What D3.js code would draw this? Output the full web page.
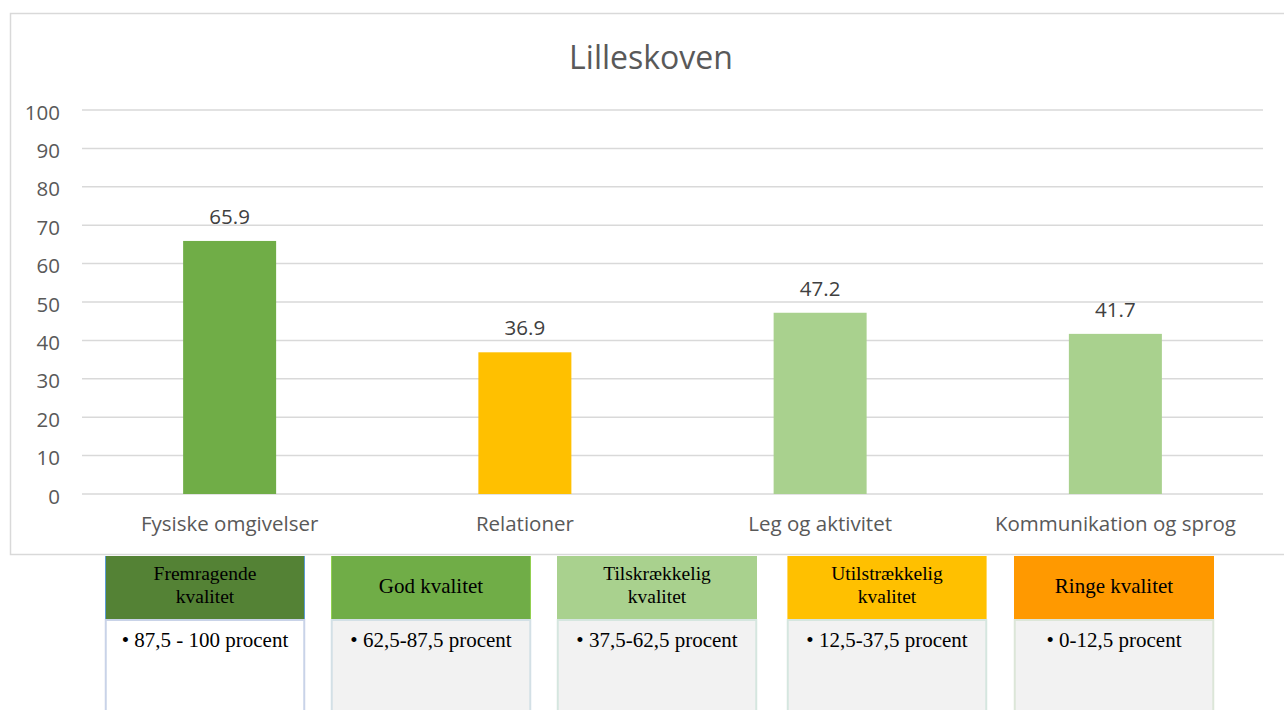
<!DOCTYPE html>
<html><head><meta charset="utf-8">
<script src="https://cdn.jsdelivr.net/npm/d3@7"></script>
<style>
body{margin:0;background:#fff;}
svg{display:block;}
</style></head>
<body>
<svg id="c" width="1284" height="710"></svg>
<script>
const title = "Lilleskoven";
const categories = ["Fysiske omgivelser","Relationer","Leg og aktivitet","Kommunikation og sprog"];
const values = [65.9, 36.9, 47.2, 41.7];
const barColors = ["#70AD47","#FFC000","#A9D18E","#A9D18E"];
const yTicks = [0,10,20,30,40,50,60,70,80,90,100];
const legendTitles = [["Fremragende","kvalitet"],["God kvalitet"],["Tilskrækkelig","kvalitet"],["Utilstrækkelig","kvalitet"],["Ringe kvalitet"]];
const legendRanges = ["• 87,5 - 100 procent","• 62,5-87,5 procent","• 37,5-62,5 procent","• 12,5-37,5 procent","• 0-12,5 procent"];
const legendColors = ["#548235","#70AD47","#A9D18E","#FFC000","#FF9900"];
const legendBorders = ["#5B9BD5","#92D050","#A9D18E","#FFD966","#FF9900"];
const legendBodyFill = ["#FFFFFF","#F2F2F2","#F2F2F2","#F2F2F2","#F2F2F2"];
const legendBodyBorder = ["#C9D3E8","#D3E0E6","#D5E6DF","#D5E6DF","#DCE6D8"];
const legendX = [105,331,557,787,1014];

const svg = d3.select("#c");
const font = "'Open Sans', sans-serif";
const serif = "'Liberation Serif', 'Times New Roman', serif";

// chart frame
svg.append("rect").attr("x",10.5).attr("y",13.5).attr("width",1290).attr("height",541)
  .attr("fill","#fff").attr("stroke","#D9D9D9").attr("stroke-width",1.5);

const x = d3.scaleBand().domain(categories).range([82,1263]).paddingInner(0.685).paddingOuter(0.3425);
const y = d3.scaleLinear().domain([0,100]).range([494,110]);

// gridlines
svg.append("g").selectAll("line").data(yTicks).join("line")
  .attr("x1",82).attr("x2",1263).attr("y1",d=>y(d)).attr("y2",d=>y(d))
  .attr("stroke","#D9D9D9").attr("stroke-width",1.5);

// y axis labels
const yAxis = d3.axisLeft(y).tickValues(yTicks).tickSize(0).tickPadding(0);
const ya = svg.append("g").attr("transform","translate(60,2)").call(yAxis);
ya.select(".domain").remove();
ya.selectAll("text").attr("font-family",font).attr("font-size",20.5).attr("fill","#595959").attr("dy","0.35em");

// bars
svg.append("g").selectAll("rect").data(values).join("rect")
  .attr("x",(d,i)=>x(categories[i])).attr("width",x.bandwidth())
  .attr("y",d=>y(d)).attr("height",d=>y(0)-y(d)).attr("fill",(d,i)=>barColors[i]);

// value labels
svg.append("g").selectAll("text").data(values).join("text")
  .attr("x",(d,i)=>x(categories[i])+x.bandwidth()/2).attr("y",d=>y(d)-17)
  .attr("text-anchor","middle").attr("font-family",font).attr("font-size",20.5).attr("fill","#404040")
  .text(d=>d.toFixed(1));

// x axis labels
const xAxis = d3.axisBottom(x).tickSize(0).tickPadding(0);
const xa = svg.append("g").attr("transform","translate(0,524)").call(xAxis);
xa.select(".domain").remove();
xa.selectAll("text").attr("font-family",font).attr("font-size",20.5).attr("fill","#595959").attr("dy","0.35em");

// title
svg.append("text").attr("x",651).attr("y",69).attr("text-anchor","middle")
  .attr("font-family",font).attr("font-size",32).attr("fill","#595959").text(title);

// legend
const lw = 200;
const lg = svg.append("g").selectAll("g").data(legendTitles).join("g")
  .attr("transform",(d,i)=>`translate(${legendX[i]},0)`);
lg.append("rect").attr("x",0.75).attr("y",620).attr("width",lw-1.5).attr("height",100)
  .attr("fill",(d,i)=>legendBodyFill[i]).attr("stroke",(d,i)=>legendBodyBorder[i]).attr("stroke-width",2);
lg.append("rect").attr("x",0).attr("y",556).attr("width",lw).attr("height",63)
  .attr("fill",(d,i)=>legendColors[i]);
lg.append("line").attr("x1",0.5).attr("x2",0.5).attr("y1",556).attr("y2",619).attr("stroke",(d,i)=>legendBorders[i]);
lg.append("line").attr("x1",lw-0.5).attr("x2",lw-0.5).attr("y1",556).attr("y2",619).attr("stroke",(d,i)=>legendBorders[i]);
lg.each(function(d,i){
  const g = d3.select(this);
  const startY = d.length===1 ? 593 : 580;
  d.forEach((line,k)=>{
    g.append("text").attr("text-anchor","middle").attr("font-family",serif)
      .attr("font-size",d.length===1 ? 21 : 19.5).attr("fill","#000")
      .attr("x",lw/2).attr("y",startY+k*23).text(line);
  });
  g.append("text").attr("x",lw/2).attr("y",647).attr("text-anchor","middle")
    .attr("font-family",serif).attr("font-size",21).attr("fill","#000")
    .text(legendRanges[i]);
});
</script>
</body></html>
